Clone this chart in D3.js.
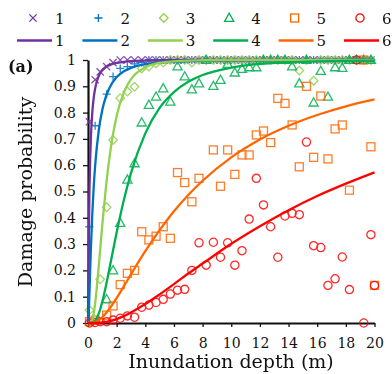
<!DOCTYPE html>
<html><head><meta charset="utf-8">
<script src="https://cdn.jsdelivr.net/npm/d3@7"></script>
<style>body{margin:0;background:#fff}svg{display:block}text{font-family:"DejaVu Serif",serif;fill:#111}</style>
</head><body>
<svg id="c" width="392" height="374"></svg>
<script>
// observed depth bins (m)
const depths = [0.1,0.5,0.85,1.3,1.75,2.25,2.75,3.25,3.75,4.25,4.75,5.25,5.75,6.25,6.75,7.25,7.75,8.25,8.75,9.25,9.75,10.25,10.75,11.25,11.75,12.25,12.75,13.25,13.75,14.25,14.75,15.25,15.75,16.25,16.75,17.25,17.75,18.25,18.75,19.25,19.75,20];
// observed damage probabilities per damage state
const obs1 = [0.765,0.925,0.955,0.975,0.99,1,1,1,1,1,1,1,1,1,1,1,1,1,1,1,1,1,1,1,1,1,1,1,1,1,1,1,1,1,1,1,1,1,1,1,1,null];
const obs2 = [0.366,0.75,null,0.87,0.937,0.968,0.975,0.985,0.99,1,1,1,1,1,1,1,1,1,1,1,1,1,1,1,1,1,1,1,1,1,1,1,1,1,1,1,1,1,1,1,1,null];
const obs3 = [0.049,null,0.166,0.44,0.696,0.855,0.88,0.898,0.968,0.975,0.987,0.99,1,1,1,0.99,1,1,1,1,1,1,1,1,1,1,1,1,1,1,0.96,1,0.921,1,1,1,1,1,1,1,1,null];
const obs4 = [null,null,null,0.09,0.2,0.38,0.545,0.607,0.762,0.829,0.86,0.892,0.841,0.975,0.937,0.888,0.911,1,0.901,0.924,0.985,0.952,0.966,0.972,0.972,1,1,1,1,0.975,0.911,1,0.838,0.958,0.86,0.972,0.97,1,1,1,1,null];
const obs5 = [0.005,0.011,null,0.03,0.065,0.146,0.189,0.2,0.347,0.316,0.33,0.366,0.322,0.572,0.534,0.461,0.55,null,0.658,0.52,0.658,0.565,0.639,0.639,0.715,0.73,0.686,0.854,0.835,0.753,0.594,0.9,0.63,0.863,0.624,0.738,0.753,0.505,null,1,0.67,0.143];
const obs6 = [0,0.002,0.005,0.005,0.011,0.018,0.027,0.022,0.06,0.068,0.078,0.09,0.11,0.125,0.128,0.2,0.305,0.22,0.307,0.25,0.305,0.22,0.275,0.395,0.55,0.449,0.366,0.25,0.407,0.417,0.412,0.688,0.294,0.287,0.143,0.168,0.251,0.127,1,0,0.336,0.143];
// fitted curves
const curveDepths = [0,0.02,0.05,0.1,0.15,0.2,0.3,0.4,0.5,0.75,1,1.25,1.5,2,2.5,3,4,5,6,7,8,10,12,14,16,18,20];
const fit1 = [0,0.108,0.297,0.5,0.622,0.703,0.801,0.857,0.892,0.939,0.962,0.974,0.981,0.989,0.993,0.996,0.998,0.999,0.999,1,1,1,1,1,1,1,1];
const fit2 = [0,0.004,0.033,0.112,0.199,0.28,0.415,0.519,0.599,0.732,0.811,0.861,0.894,0.935,0.957,0.970,0.984,0.990,0.994,0.996,0.997,0.999,0.999,1,1,1,1];
const fit3 = [0,0,0,0,0,0.002,0.012,0.036,0.075,0.216,0.374,0.516,0.630,0.787,0.876,0.927,0.972,0.989,0.995,0.998,0.999,1,1,1,1,1,1];
const fit4 = [0,0,0,0,0,0,0.001,0.004,0.009,0.036,0.082,0.141,0.208,0.344,0.467,0.570,0.721,0.818,0.878,0.917,0.943,0.971,0.985,0.991,0.995,0.997,0.998];
const fit5 = [0,0,0,0,0,0,0.001,0.002,0.003,0.010,0.022,0.037,0.054,0.095,0.139,0.185,0.273,0.353,0.425,0.487,0.541,0.630,0.698,0.750,0.791,0.824,0.850];
const fit6 = [0,0,0,0,0,0,0,0,0,0.001,0.002,0.004,0.007,0.015,0.026,0.040,0.072,0.109,0.148,0.188,0.226,0.301,0.368,0.429,0.483,0.530,0.573];
const labels = ["1","2","3","4","5","6"];
const colors = ["#7030a0","#0070c0","#92d050","#00b050","#ff6600","#ff0000"];
const shapes = ["x","plus","diamond","triangle","square","circle"];
const xTicks = [0,2,4,6,8,10,12,14,16,18,20];
const yTicks = [0,0.1,0.2,0.3,0.4,0.5,0.6,0.7,0.8,0.9,1];

const obs = [obs1,obs2,obs3,obs4,obs5,obs6];
const fits = [fit1,fit2,fit3,fit4,fit5,fit6];

const svg = d3.select("#c");
const x = d3.scaleLinear().domain([0,20]).range([88,374.5]);
const y = d3.scaleLinear().domain([0,1]).range([323,60]);

function marker(g, shape, color){
  const s = 3.6;
  let el;
  if(shape==="x") el = g.append("path").attr("d",`M${-s},${-s}L${s},${s}M${-s},${s}L${s},${-s}`);
  else if(shape==="plus") el = g.append("path").attr("d",`M${-s-0.4},0H${s+0.4}M0,${-s-0.4}V${s+0.4}`);
  else if(shape==="diamond") el = g.append("path").attr("d",`M0,-4.3L4.3,0L0,4.3L-4.3,0Z`);
  else if(shape==="triangle") el = g.append("path").attr("d",`M0,-4.8L4.6,3.4L-4.6,3.4Z`);
  else if(shape==="square") el = g.append("rect").attr("x",-4).attr("y",-4).attr("width",8).attr("height",8);
  else el = g.append("circle").attr("r",4.1);
  el.attr("fill","none").attr("stroke",color).attr("stroke-width",1.3);
}

// axes
const yAxis = d3.axisLeft(y).tickValues(yTicks).tickSize(5).tickSizeOuter(0).tickPadding(7)
  .tickFormat(d => (d===0||d===1) ? String(d) : d3.format(".1f")(d));
const gy = svg.append("g").attr("transform","translate(88,0)").call(yAxis);
const xAxis = d3.axisBottom(x).tickValues(xTicks).tickSize(4).tickSizeOuter(0).tickPadding(11);
const gx = svg.append("g").attr("transform","translate(0,323)").call(xAxis);
[gx,gy].forEach(g=>{
  g.select(".domain").attr("stroke","#111").attr("stroke-width",2.2);
  g.selectAll(".tick line").attr("stroke","#111").attr("stroke-width",1.3);
  g.selectAll("text").attr("font-family","DejaVu Serif").attr("font-size",14).attr("fill","#111");
});

// observed points
obs.forEach((arr,i)=>{
  const g = svg.append("g").attr("opacity",0.85);
  arr.forEach((p,j)=>{
    if(p===null) return;
    const m = g.append("g").attr("transform",`translate(${x(depths[j])},${y(p)})`);
    marker(m, shapes[i], colors[i]);
  });
});

// fitted lines
const line = d3.line().x(d=>x(d[0])).y(d=>y(d[1])).curve(d3.curveMonotoneX);
fits.forEach((arr,i)=>{
  svg.append("path").datum(curveDepths.map((d,j)=>[d,arr[j]]))
    .attr("d",line).attr("fill","none").attr("stroke",colors[i]).attr("stroke-width",2.3);
});

// legend
labels.forEach((lab,i)=>{
  const cx = 33 + 65.4*i;
  const m = svg.append("g").attr("transform",`translate(${cx},18)`);
  marker(m, shapes[i], colors[i]);
  svg.append("text").attr("x",cx+22).attr("y",24).attr("font-size",15).text(lab);
  svg.append("line").attr("x1",cx-16).attr("x2",cx+19).attr("y1",40.5).attr("y2",40.5)
    .attr("stroke",colors[i]).attr("stroke-width",2.6);
  svg.append("text").attr("x",cx+22).attr("y",46).attr("font-size",15).text(lab);
});

// titles
svg.append("text").attr("x",8).attr("y",72).attr("font-size",16).attr("font-weight","bold").text("(a)");
svg.append("text").attr("x",231).attr("y",368).attr("text-anchor","middle").attr("font-size",19).text("Inundation depth (m)");
svg.append("text").attr("transform","translate(32,192) rotate(-90)").attr("text-anchor","middle").attr("font-size",19).text("Damage probability");
</script>
</body></html>
